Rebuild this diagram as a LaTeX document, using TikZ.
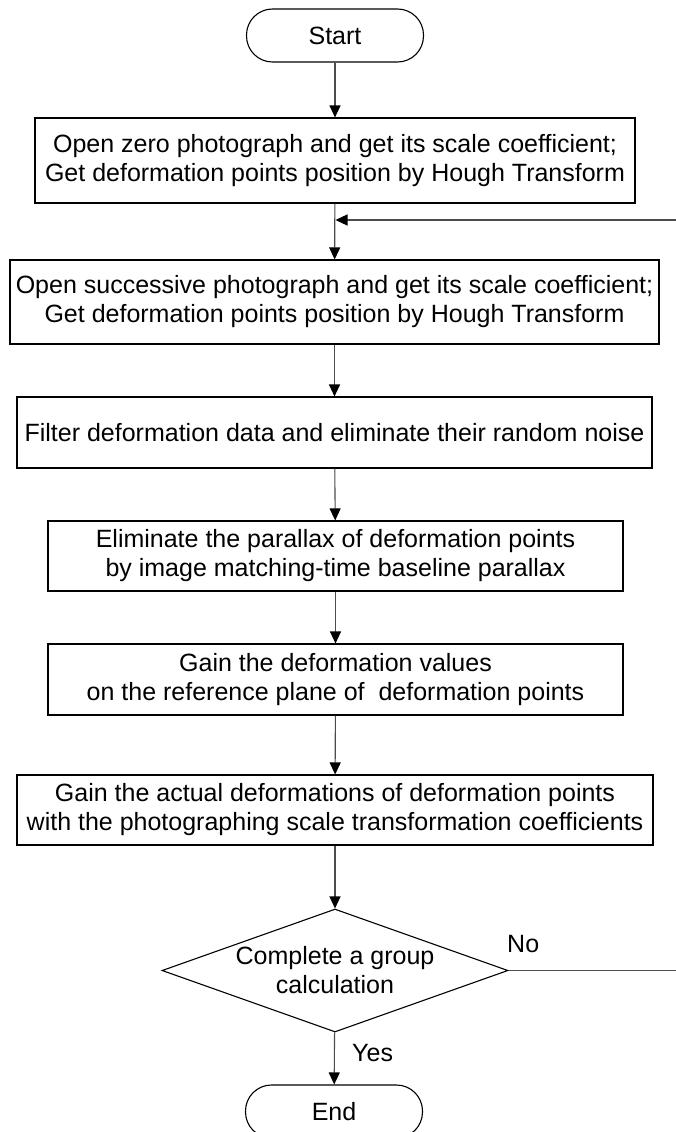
\documentclass[tikz,border=0pt]{standalone}
\usepackage{fontspec}
\setmainfont{Liberation Sans}
\usetikzlibrary{arrows.meta,shapes.geometric}

\tikzset{
  flowbox/.style={draw=black, line width=1.1pt, rectangle, inner sep=0pt,
    align=center, font=\fontsize{25}{29}\selectfont},
  terminal/.style={draw=black, line width=1.1pt, rectangle, rounded corners=26pt,
    minimum width=177pt, minimum height=53pt, inner sep=0pt,
    font=\fontsize{25}{29}\selectfont},
  decision/.style={draw=black, line width=1.1pt, diamond, inner sep=0pt,
    minimum width=346pt, minimum height=123pt},
  conn/.style={draw=black!70, line width=1.1pt,
    -{Triangle[width=11pt,length=12pt,fill=black,color=black]}},
  tag/.style={font=\fontsize{25}{29}\selectfont, inner sep=0pt}
}

\begin{document}
\begin{tikzpicture}[x=1pt,y=-1pt]
  \useasboundingbox (0,0) rectangle (675,1132);

  % terminals and process steps
  \node[terminal] (start) at (335,35.5) {Start};
  \node[flowbox, minimum width=600pt, minimum height=85pt] (open0) at (335,160.5)
    {Open zero photograph and get its scale coefficient;\\Get deformation points position by Hough Transform};
  \node[flowbox, minimum width=649pt, minimum height=84pt] (openN) at (334.5,302)
    {Open successive photograph and get its scale coefficient;\\Get deformation points position by Hough Transform};
  \node[flowbox, minimum width=635pt, minimum height=71pt] (filter) at (334.5,432.5)
    {Filter deformation data and eliminate their random noise};
  \node[flowbox, minimum width=575pt, minimum height=70pt] (parallax) at (335.5,556)
    {Eliminate the parallax of deformation points\\ by image matching-time baseline parallax};
  \node[flowbox, minimum width=575pt, minimum height=71pt] (values) at (335.5,679.5)
    {Gain the deformation values\\on the reference plane of\ \ deformation points};
  \node[flowbox, minimum width=636pt, minimum height=70pt] (actual) at (335,810)
    {Gain the actual deformations of deformation points\\with the photographing scale transformation coefficients};
  \node[decision, label={[align=center, font=\fontsize{25}{29}\selectfont]center:Complete a group\\calculation}]
    (check) at (335,970.5) {};
  \node[terminal] (finish) at (334,1111.5) {End};

  % branch labels
  \node[tag, anchor=west] (nolbl) at (507,944) {No};
  \node[tag, anchor=west] (yeslbl) at (352,1053) {Yes};

  % loop-back route points
  \coordinate (loopR) at (680,970.5);
  \coordinate (loopT) at (680,220);
  \coordinate (join) at (335.5,220);

  % main flow
  \draw[conn] (start) -- (open0);
  \draw[conn] (open0) -- (openN);
  \draw[conn] (openN) -- (filter);
  \draw[conn] (filter) -- (parallax);
  \draw[conn] (parallax) -- (values);
  \draw[conn] (values) -- (actual);
  \draw[conn] (actual) -- (check);
  \draw[conn] (check) -- (finish);

  % "No" branch returning above the successive-photograph step
  \draw[conn] (check.east) -- (loopR) -- (loopT) -- (join);
\end{tikzpicture}
\end{document}
